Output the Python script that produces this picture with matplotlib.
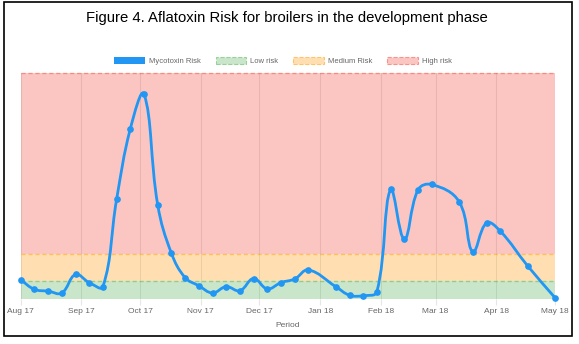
import datetime as dt

import matplotlib.dates as mdates
import matplotlib.pyplot as plt
import numpy as np
from matplotlib.patches import Patch, PathPatch, Rectangle
from matplotlib.path import Path

plt.rcParams['font.family'] = ['Liberation Sans', 'DejaVu Sans']

# weekly aflatoxin risk readings
sample_dates = [
    '2017-08-01', '2017-08-08', '2017-08-15', '2017-08-22', '2017-08-29',
    '2017-09-05', '2017-09-12', '2017-09-19', '2017-09-26', '2017-10-03',
    '2017-10-10', '2017-10-17', '2017-10-24', '2017-10-31', '2017-11-07',
    '2017-11-14', '2017-11-21', '2017-11-28', '2017-12-05', '2017-12-12',
    '2017-12-19', '2017-12-26', '2018-01-09', '2018-01-16', '2018-01-23',
    '2018-01-30', '2018-02-06', '2018-02-13', '2018-02-20', '2018-02-27',
    '2018-03-13', '2018-03-20', '2018-03-27', '2018-04-03', '2018-04-17',
    '2018-05-01',
]
mycotoxin_risk = [
    4.3, 2.2, 1.8, 1.4, 5.5, 3.7, 2.8, 22.1, 37.7, 45.4,
    20.9, 10.2, 4.8, 3.0, 1.4, 2.8, 1.9, 4.6, 2.3, 3.7,
    4.5, 6.5, 2.8, 0.9, 0.8, 1.7, 24.3, 13.3, 24.2, 25.4,
    21.6, 10.5, 16.9, 15.1, 7.4, 0.35,
]

# risk bands
low_limit = 4
medium_limit = 10
high_limit = 50

month_starts = [
    '2017-08-01', '2017-09-01', '2017-10-01', '2017-11-01', '2017-12-01',
    '2018-01-01', '2018-02-01', '2018-03-01', '2018-04-01', '2018-05-01',
]

blue = '#2196f3'
green = '#4caf50'
orange = '#ff9800'
red = '#f44336'
text_grey = '#666666'


def to_date(s):
    return dt.datetime.strptime(s, '%Y-%m-%d')


def spline_path(ax, xs, ys, tension=0.4):
    # bezier curve through the points, control points like Chart.js
    pts = ax.transData.transform(np.column_stack([xs, ys]))
    n = len(pts)
    bbox = ax.get_window_extent()
    cp_prev, cp_next = [], []
    for i in range(n):
        p0 = pts[max(i - 1, 0)]
        p1 = pts[i]
        p2 = pts[min(i + 1, n - 1)]
        d01 = np.hypot(*(p1 - p0))
        d12 = np.hypot(*(p2 - p1))
        total = d01 + d12
        fa = tension * (d01 / total if total else 0)
        fb = tension * (d12 / total if total else 0)
        a = p1 - fa * (p2 - p0)
        b = p1 + fb * (p2 - p0)
        a[1] = np.clip(a[1], bbox.y0, bbox.y1)
        b[1] = np.clip(b[1], bbox.y0, bbox.y1)
        cp_prev.append(a)
        cp_next.append(b)
    verts = [pts[0]]
    codes = [Path.MOVETO]
    for i in range(1, n):
        verts += [cp_next[i - 1], cp_prev[i], pts[i]]
        codes += [Path.CURVE4] * 3
    verts = ax.transData.inverted().transform(np.array(verts))
    return Path(verts, codes)


x = mdates.date2num([to_date(d) for d in sample_dates])
ticks = mdates.date2num([to_date(d) for d in month_starts])

fig = plt.figure(figsize=(5.79, 3.44), dpi=100)
ax = fig.add_axes([20.7 / 579, 1 - 299.3 / 344, (555 - 20.7) / 579, 226 / 344])
ax.set_xlim(ticks[0], ticks[-1])
ax.set_ylim(0, high_limit)

# risk bands with dashed upper edges
bands = [(0, low_limit, green), (low_limit, medium_limit, orange),
         (medium_limit, high_limit, red)]
for lo, hi, col in bands:
    ax.axhspan(lo, hi, color=col, alpha=0.3, lw=0, zorder=1)
for lo, hi, col in bands:
    ax.axhline(hi, color=col, alpha=0.45, lw=1.0, ls=(0, (3, 2)),
               zorder=2, clip_on=False)

path = spline_path(ax, x, mycotoxin_risk)
ax.add_patch(PathPatch(path, facecolor='none', edgecolor=blue, lw=2.0,
                       zorder=4, capstyle='round', joinstyle='round'))
ax.plot(x, mycotoxin_risk, 'o', color=blue, ms=3.8, zorder=5,
        clip_on=False)

ax.set_xticks(ticks)
ax.set_xticklabels([mdates.num2date(t).strftime('%b %y') for t in ticks])
ax.set_yticks([])
ax.set_axisbelow(True)
ax.grid(axis='x', color='#000000', alpha=0.1, lw=0.8)
ax.tick_params(axis='x', length=4.5, width=0.8, color='#e6e6e6',
               labelsize=6, labelcolor=text_grey, pad=2)
for spine in ax.spines.values():
    spine.set_visible(False)
ax.set_xlabel('Period', fontsize=6, color=text_grey, labelpad=5)

handles = [
    Patch(facecolor=blue, edgecolor=blue, lw=0),
    Patch(facecolor=(0.298, 0.686, 0.314, 0.3),
          edgecolor=(0.298, 0.686, 0.314, 0.5), ls='--', lw=0.8),
    Patch(facecolor=(1.0, 0.596, 0.0, 0.3),
          edgecolor=(1.0, 0.596, 0.0, 0.5), ls='--', lw=0.8),
    Patch(facecolor=(0.957, 0.263, 0.212, 0.3),
          edgecolor=(0.957, 0.263, 0.212, 0.5), ls='--', lw=0.8),
]
labels = ['Mycotoxin Risk', 'Low risk', 'Medium Risk', 'High risk']
leg = fig.legend(handles, labels, loc='center', ncol=4,
                 bbox_to_anchor=(283 / 579, 1 - 61 / 344), frameon=False,
                 fontsize=5.5, handlelength=4.0, handleheight=1.15,
                 handletextpad=0.5, columnspacing=2.0, borderpad=0)
for t in leg.get_texts():
    t.set_color(text_grey)

fig.text(287 / 579, 1 - 18 / 344,
         'Figure 4. Aflatoxin Risk for broilers in the development phase',
         ha='center', va='center', fontsize=10.7, color='black')

# frame around the whole figure
fig.patches.append(Rectangle((4 / 579, 1 - 336 / 344), 568 / 579, 334 / 344,
                             transform=fig.transFigure, fill=False,
                             edgecolor='black', lw=1.2))

fig.savefig('out.png', dpi=100)
